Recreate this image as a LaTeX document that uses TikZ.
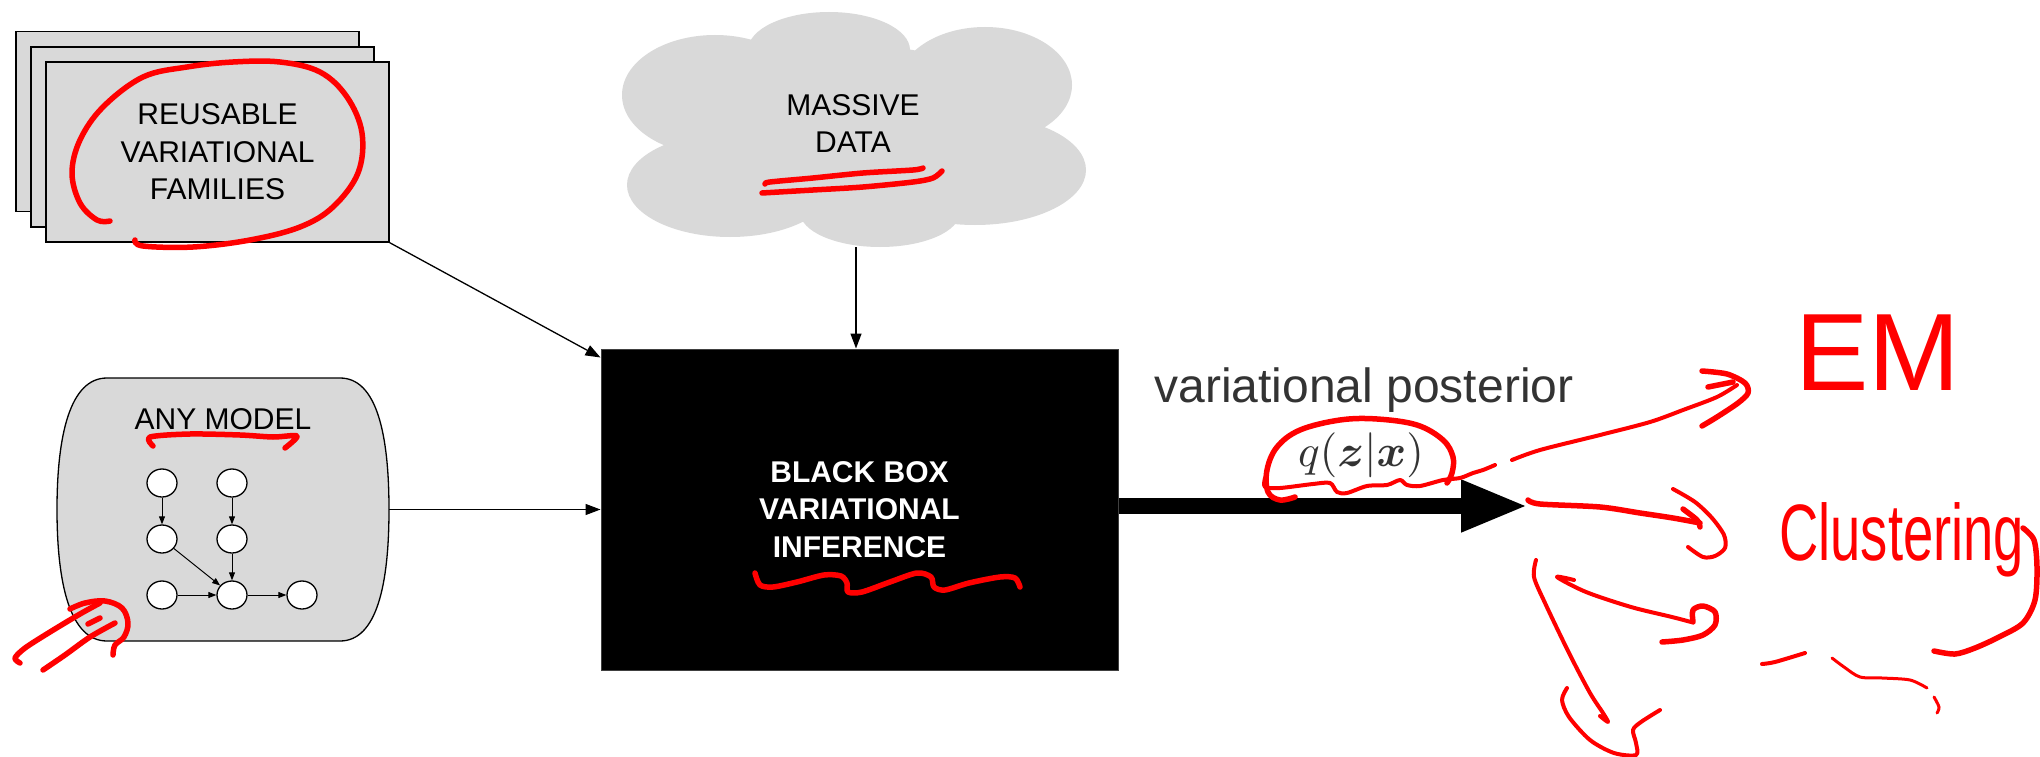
\documentclass[tikz,border=0pt]{standalone}
\usepackage{fontspec}
\setmainfont{Liberation Sans}
\usepackage{amsmath,bm}
\usetikzlibrary{arrows.meta,calc,shapes.geometric}
\definecolor{boxgray}{RGB}{217,217,217}
\definecolor{txtgray}{RGB}{51,51,51}
\definecolor{ink}{RGB}{255,0,0}
\tikzset{
  gbox/.style={draw=black, line width=1.3pt, fill=boxgray, minimum width=343pt, minimum height=180pt, inner sep=0pt, align=center, font=\fontsize{30}{37.5}\selectfont},
  arr/.style={line width=1.3pt, -{Triangle[length=15pt,width=11pt]}},
  gnode/.style={draw, line width=1.3pt, fill=white, ellipse, minimum width=30pt, minimum height=28pt, inner sep=0pt},
  garr/.style={line width=1pt, -{Triangle[length=8pt,width=6pt]}},
  pen/.style={draw=ink, line width=5.5pt, line cap=round, line join=round},
  thinpen/.style={pen, line width=4pt},
}
\begin{document}
\begin{tikzpicture}[x=1pt,y=-1pt]
\useasboundingbox (0,0) rectangle (2040,757);
\fill[white] (0,0) rectangle (2040,757);

% stacked boxes
\node[gbox] (back1) at (187.5,121.5) {};
\node[gbox] (back2) at (202.5,137) {};
\node[gbox] (fam) at (217.5,152) {REUSABLE\\VARIATIONAL\\FAMILIES};

% cloud
\fill[boxgray] (829,50) ellipse[x radius=81, y radius=38];
\fill[boxgray] (985,85) ellipse[x radius=87, y radius=58];
\fill[boxgray] (975,170) ellipse[x radius=111, y radius=55];
\fill[boxgray] (880,212) ellipse[x radius=80, y radius=35];
\fill[boxgray] (730,185) ellipse[x radius=103, y radius=52];
\fill[boxgray] (715,95) ellipse[x radius=93, y radius=60];
\fill[boxgray] (855,130) ellipse[x radius=170, y radius=85];
\node[align=center, font=\fontsize{30}{37}\selectfont] (data) at (853,124) {MASSIVE\\DATA};
\coordinate (cloudbot) at (856,247);

% any model
\node[minimum width=332pt, minimum height=263pt, inner sep=0pt] (model) at (223,509.5) {};
\draw[line width=1.3pt, fill=boxgray] (107,378) -- (340,378) .. controls (377,378) and (389,435) .. (389,509.5) .. controls (389,584) and (377,641) .. (340,641) -- (107,641) .. controls (70,641) and (57,584) .. (57,509.5) .. controls (57,435) and (70,378) .. (107,378) -- cycle;
\node[font=\fontsize{30}{36}\selectfont, anchor=base] (anymodel) at (223,429) {ANY MODEL};
\node[gnode] (g1) at (162,483) {};
\node[gnode] (g2) at (232,483) {};
\node[gnode] (g3) at (162,539) {};
\node[gnode] (g4) at (232,539) {};
\node[gnode] (g5) at (162,595) {};
\node[gnode] (g6) at (232,595) {};
\node[gnode] (g7) at (302,595) {};
\draw[garr] (g1) -- (g3);
\draw[garr] (g2) -- (g4);
\draw[garr] (g3) -- (g6);
\draw[garr] (g4) -- (g6);
\draw[garr] (g5) -- (g6);
\draw[garr] (g6) -- (g7);

% black box
\node[draw=black!75, line width=1pt, fill=black, minimum width=517pt, minimum height=321pt, inner sep=0pt, text=white, align=center, font=\bfseries\fontsize{30}{37.5}\selectfont] (bb) at (859.5,509.5) {BLACK BOX\\VARIATIONAL\\INFERENCE};

% connectors
\draw[arr] (fam.south east) -- ([yshift=-9pt]bb.north west);
\draw[arr] (cloudbot) -- (cloudbot |- bb.north);
\draw[arr] (model.east) -- (bb.west);
\coordinate (tip) at (1528,506);
\draw[line width=16pt, -{Triangle[length=67pt,width=48pt]}] (bb.east |- tip) -- (tip);

% labels
\node[font=\fontsize{48}{48}\selectfont, text=txtgray, anchor=base] (vp) at (1364,402) {variational posterior};
\node[text=txtgray, inner sep=0pt] (q) at (1361,455) {\scalebox{4.5}{$q(\boldsymbol{z}|\boldsymbol{x})$}};

% handwritten words
\node[text=ink, anchor=base west, inner sep=0pt, font=\fontsize{110}{110}\selectfont] (em) at (1795,390) {EM};
\node[text=ink, anchor=base west, inner sep=0pt] (clu) at (1779,560) {\scalebox{0.68}[1]{\fontsize{80}{80}\selectfont Clustering}};

% red ink annotations
\draw[pen] plot[smooth, tension=0.6] coordinates {(110,221) (97,220) (80,203) (72,173) (80,140) (103,107) (143,77) (187,67) (233,62) (280,62) (320,72) (347,97) (362,133) (358,173) (333,207) (300,227) (250,240) (193,247) (143,246) (135,240)};
\draw[pen] plot[smooth, tension=0.5] coordinates {(765,184) (770,182) (813,178) (863,173) (913,170) (923,168)};
\draw[pen] plot[smooth, tension=0.5] coordinates {(942,171) (933,178) (913,182) (863,187) (813,190) (762,193)};
\draw[pen] plot[smooth, tension=0.5] coordinates {(153,446) (150,437) (190,434) (240,435) (273,437) (297,436) (285,448)};
\draw[pen] plot[smooth, tension=0.5] coordinates {(20,663) (15,658) (25,648) (50,632) (80,614) (100,603)};
\draw[pen] plot[smooth, tension=0.6] coordinates {(70,609) (85,603) (105,601) (122,608) (128,623) (124,637) (115,645) (113,655)};
\draw[pen] plot[smooth, tension=0.5] coordinates {(43,670) (65,655) (90,637) (115,623)};
\draw[pen] (88,624) -- (100,618);
\draw[pen] plot[smooth, tension=0.5] coordinates {(755,573) (760,585) (773,587) (797,582) (824,575) (841,576) (847,583) (848,592) (862,592) (890,582) (917,573) (931,577) (934,587) (945,590) (969,583) (1000,577) (1015,578) (1020,587)};
\draw[pen] plot[smooth, tension=0.6] coordinates {(1295,497) (1280,500) (1268,492) (1267,470) (1277,447) (1300,430) (1340,420) (1377,419) (1417,425) (1443,440) (1453,457) (1452,473) (1447,483)};
\draw[thinpen] plot[smooth, tension=0.5] coordinates {(1265,478) (1265,487) (1280,488) (1313,484) (1330,483) (1337,492) (1347,493) (1367,486) (1387,485) (1400,480) (1407,485) (1420,486) (1443,480) (1460,478) (1473,473) (1483,470) (1495,465)};
% arrow to EM
\draw[thinpen] plot[smooth, tension=0.5] coordinates {(1512,460) (1540,450) (1600,435) (1650,422) (1683,410) (1717,397) (1737,385)};
\draw[pen] plot[smooth, tension=0.5] coordinates {(1702,371) (1727,374) (1745,383) (1748,393) (1738,403) (1717,417) (1702,426)};
\draw[pen] (1708,387) -- (1733,382);
% arrow to Clustering
\draw[pen] plot[smooth, tension=0.5] coordinates {(1528,500) (1540,504) (1600,507) (1640,513) (1673,518) (1700,523)};
\draw[thinpen] plot[smooth, tension=0.5] coordinates {(1673,489) (1695,502) (1712,518) (1724,535) (1725,548) (1715,556) (1703,557) (1688,547)};
\draw[pen] plot[smooth, tension=0.5] coordinates {(1683,509) (1697,520) (1700,527)};
% brace after Clustering
\draw[pen] plot[smooth, tension=0.5] coordinates {(2023,528) (2034,540) (2037,567) (2035,600) (2023,623) (1999,637) (1975,648) (1955,654) (1934,651)};
% third arrow
\draw[thinpen] plot[smooth, tension=0.5] coordinates {(1574,580) (1557,577) (1586,592) (1631,607) (1672,617) (1691,622)};
\draw[pen] plot[smooth, tension=0.5] coordinates {(1693,622) (1693,610) (1703,606) (1715,612) (1715,625) (1703,635) (1683,640) (1662,642)};
% fourth arrow
\draw[thinpen] plot[smooth, tension=0.5] coordinates {(1536,560) (1534,577) (1545,603) (1569,653) (1590,693) (1603,713) (1608,722) (1600,716)};
\draw[thinpen] plot[smooth, tension=0.5] coordinates {(1567,688) (1562,700) (1569,717) (1590,740) (1614,753) (1636,755) (1636,743) (1633,730) (1641,722) (1660,710)};
% dashes
\draw[thinpen] plot[smooth, tension=0.5] coordinates {(1762,664) (1775,662) (1805,653)};
\draw[thinpen, line width=3pt] plot[smooth, tension=0.5] coordinates {(1832,658) (1844,667) (1860,677) (1882,678) (1910,680) (1927,688)};
\draw[thinpen, line width=3pt] plot[smooth, tension=0.5] coordinates {(1934,697) (1939,707) (1937,713)};
\end{tikzpicture}
\end{document}
